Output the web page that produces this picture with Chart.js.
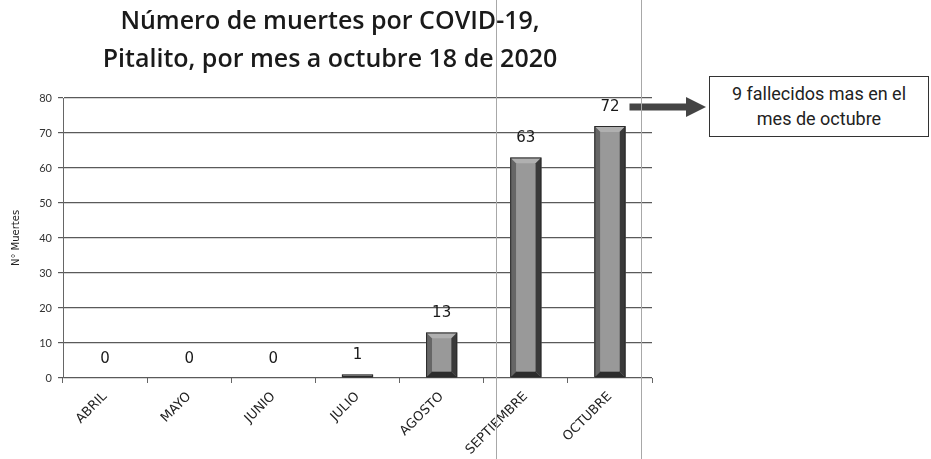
<!DOCTYPE html>
<html>
<head>
<meta charset="utf-8">
<script src="https://cdn.jsdelivr.net/npm/chart.js@4.4.0/dist/chart.umd.min.js"></script>
<style>
  body { margin: 0; background: #fff; }
  #wrap { position: relative; width: 931px; height: 459px; }
  .scan { position: absolute; top: 0; width: 1px; height: 459px; background: #a8a8a8; }
  #nota {
    position: absolute; left: 709px; top: 76px; width: 220px; height: 61px;
    border: 1px solid #333; box-sizing: border-box;
    font: 18px Roboto, sans-serif; color: #222; text-align: center; line-height: 25px;
    padding-top: 4px; background: #fff;
  }
</style>
</head>
<body>
<div id="wrap">
  <canvas id="muertesChart"></canvas>
  <div class="scan" style="left:496px"></div>
  <div class="scan" style="left:641px"></div>
  <div id="nota">9 fallecidos mas en el<br>mes de octubre</div>
</div>
<script>
// datos
const meses = ["ABRIL", "MAYO", "JUNIO", "JULIO", "AGOSTO", "SEPTIEMBRE", "OCTUBRE"];
const muertes = [0, 0, 0, 1, 13, 63, 72];
const yMin = 0;
const yMax = 80;
const yPaso = 10;

// barras con relieve (bisel)
const bisel = {
  id: "bisel",
  afterDatasetsDraw(chart) {
    const c = chart.ctx;
    const meta = chart.getDatasetMeta(0);
    meta.data.forEach(bar => {
      const p = bar.getProps(["x", "y", "base", "width"], true);
      const L = p.x - p.width / 2, R = p.x + p.width / 2, T = p.y, B = p.base;
      const h = B - T;
      if (h < 1) return;
      const d = Math.min(6, h / 2, p.width / 4);
      const poly = (pts, col) => {
        c.beginPath();
        c.moveTo(pts[0][0], pts[0][1]);
        pts.slice(1).forEach(q => c.lineTo(q[0], q[1]));
        c.closePath();
        c.fillStyle = col;
        c.fill();
      };
      c.save();
      poly([[L, T], [R, T], [R - d, T + d], [L + d, T + d]], "#b0b0b0");
      poly([[L, T], [L + d, T + d], [L + d, B - d], [L, B]], "#666");
      poly([[R, T], [R, B], [R - d, B - d], [R - d, T + d]], "#3a3a3a");
      poly([[L, B], [L + d, B - d], [R - d, B - d], [R, B]], "#2c2c2c");
      c.fillStyle = "#999";
      c.fillRect(L + d, T + d, R - L - 2 * d, h - 2 * d);
      c.strokeStyle = "#2a2a2a";
      c.lineWidth = 1;
      c.strokeRect(L + 0.5, T + 0.5, R - L - 1, h - 1);
      c.restore();
    });
  }
};

// etiquetas de valor y flecha hacia la nota
const etiquetas = {
  id: "etiquetas",
  afterDraw(chart) {
    const c = chart.ctx;
    const meta = chart.getDatasetMeta(0);
    c.save();
    c.font = "15px 'DejaVu Sans'";
    c.fillStyle = "#1a1a1a";
    c.textAlign = "center";
    c.textBaseline = "middle";
    meta.data.forEach((bar, i) => {
      c.fillText(String(muertes[i]), bar.x, bar.y - 19);
    });
    // flecha
    const ult = meta.data[meta.data.length - 1];
    const x0 = ult.x + ult.width / 2 + 4;
    const y0 = ult.y - 19;
    const x1 = document.getElementById("nota").offsetLeft - 3;
    c.fillStyle = "#444";
    c.fillRect(x0, y0 - 3.5, x1 - x0 - 18, 7);
    c.beginPath();
    c.moveTo(x1 - 20, y0 - 10);
    c.lineTo(x1, y0);
    c.lineTo(x1 - 20, y0 + 10);
    c.closePath();
    c.fill();
    c.restore();
  }
};

const ctx = document.getElementById("muertesChart").getContext("2d");

new Chart(ctx, {
  type: "bar",
  data: {
    labels: meses,
    datasets: [{
      label: "N° Muertes",
      data: muertes,
      backgroundColor: "#999",
      borderWidth: 0,
      categoryPercentage: 1,
      barPercentage: 0.37
    }]
  },
  options: {
    responsive: true,
    maintainAspectRatio: false,
    animation: false,
    layout: { padding: { left: 8, right: 279, top: 0, bottom: 0 } },
    plugins: {
      legend: { display: false },
      tooltip: { enabled: false },
      title: {
        display: true,
        text: ["Número de muertes por COVID-19,", "Pitalito, por mes a octubre 18 de 2020"],
        color: "#1a1a1a",
        font: { family: "Open Sans", size: 25, weight: 600, lineHeight: 1.52 },
        padding: { top: 3, bottom: 19 }
      }
    },
    scales: {
      x: {
        offset: true,
        grid: { display: true, drawOnChartArea: false, offset: true, tickLength: 5, color: "#666" },
        border: { display: false },
        ticks: {
          minRotation: 45, maxRotation: 45, color: "#222", padding: 6,
          font: { family: "DejaVu Sans", size: 13 }
        },
        afterFit(scale) { scale.height = 81; }
      },
      y: {
        min: yMin, max: yMax,
        ticks: {
          stepSize: yPaso, color: "#333", padding: 6,
          font: { family: "Lato", size: 11 }
        },
        grid: { color: "#5a5a5a", lineWidth: 1.2, tickLength: 5 },
        border: { display: true, color: "#666" },
        title: {
          display: true, text: "N° Muertes", color: "#222",
          font: { family: "DejaVu Sans", size: 10 }, padding: 2
        },
        afterFit(scale) { scale.width = 55; }
      }
    }
  },
  plugins: [bisel, etiquetas]
});
</script>
</body>
</html>
